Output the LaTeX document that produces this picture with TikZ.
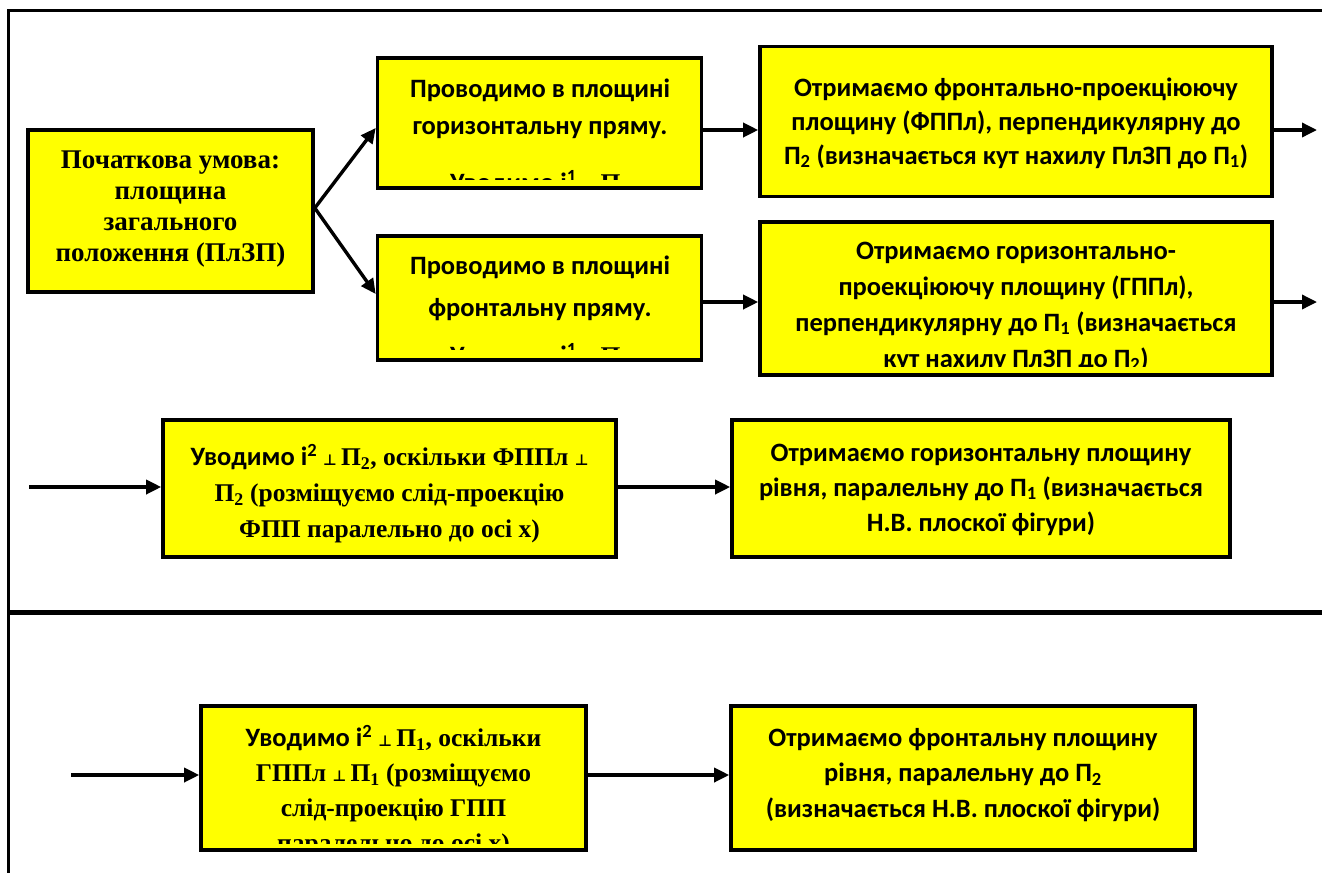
\documentclass[tikz,border=0pt]{standalone}
\usepackage{fontspec}
\setmainfont{Carlito}
\newfontfamily\tnr{Liberation Serif}
\newfontfamily\djv{DejaVu Sans}
\usetikzlibrary{arrows.meta}
\definecolor{boxyellow}{HTML}{FFFF00}
\newcommand\pp{{\djv\fontsize{15}{15}\selectfont ⊥}}
\newcommand\sbs[1]{\textsubscript{#1}}
\newcommand\tb{\tnr\fontsize{25.5}{36}\selectfont\bfseries}
\begin{document}
\begin{tikzpicture}[x=1pt,y=-1pt,
  box/.style={draw=black,line width=3.6pt,fill=boxyellow,inner sep=0pt},
  arr/.style={line width=3.4pt,-{Triangle[length=15pt,width=14pt]}},
  ctxt/.style={align=center,inner sep=0pt,font=\fontsize{26.5}{35}\selectfont\bfseries},
  ttxt/.style={align=center,inner sep=0pt,font=\tnr\fontsize{27}{31}\selectfont\bfseries}]
\useasboundingbox (0,0) rectangle (1322,873);
\fill[white] (0,0) rectangle (1322,873);
% frame
\draw[line width=3pt] (1322,10.5) -- (8,10.5) -- (8,873);
\draw[line width=5pt] (8,612) -- (1322,612);

% start box
\node[box,minimum width=285pt,minimum height=162pt] (s) at (170.5,211) {};
\node[ttxt] (st) at (170.5,209) {Початкова умова:\\площина\\загального\\положення (ПлЗП)};

% box 2
\node[box,minimum width=324pt,minimum height=130pt] (b2) at (539.5,123) {};
\begin{scope}
\clip (b2.north west) rectangle ([yshift=10pt]b2.south east);
\node[ctxt,font=\fontsize{26.5}{37}\selectfont\bfseries] (t2) at (540,137) {Проводимо в площині\\горизонтальну пряму.\\[20pt]Уводимо і\textsuperscript{1} {\tb\pp\,П\sbs{1}}};
\end{scope}

% box 3
\node[box,minimum width=324pt,minimum height=124pt] (b3) at (539.5,298) {};
\begin{scope}
\clip (b3.north west) rectangle ([yshift=12pt]b3.south east);
\node[ctxt,font=\fontsize{26.5}{42}\selectfont\bfseries] (t3) at (540,312) {Проводимо в площині\\фронтальну пряму.\\[6pt]Уводимо і\textsuperscript{1} {\tb\pp\,П\sbs{2}}};
\end{scope}

% box 4
\node[box,minimum width=512pt,minimum height=150pt] (b4) at (1016,121.5) {};
\node[ctxt,font=\fontsize{26.5}{34}\selectfont\bfseries] (t4) at (1016,123) {Отримаємо фронтально-проекціюючу\\площину (ФППл), перпендикулярну до\\П\sbs{2} (визначається кут нахилу ПлЗП до П\sbs{1})};

% box 5
\node[box,minimum width=512pt,minimum height=153pt] (b5) at (1016,298.5) {};
\begin{scope}
\clip (b5.north west) rectangle ([yshift=10pt]b5.south east);
\node[ctxt,font=\fontsize{26.5}{36}\selectfont\bfseries] (t5) at (1016,306.5) {Отримаємо горизонтально-\\проекціюючу площину (ГППл),\\перпендикулярну до П\sbs{1} (визначається\\кут нахилу ПлЗП до П\sbs{2})};
\end{scope}

% box 6
\node[box,minimum width=453pt,minimum height=137pt] (b6) at (389.5,488.5) {};
\node[ctxt,font=\fontsize{26.5}{36}\selectfont\bfseries] (t6) at (389.5,494) {Уводимо і\textsuperscript{2} {\tb\pp\,П\sbs{2}, оскільки ФППл \pp}\\{\tb П\sbs{2} (розміщуємо слід-проекцію}\\{\tb ФПП паралельно до осі х)}};

% box 7
\node[box,minimum width=498pt,minimum height=137pt] (b7) at (981,488.5) {};
\node[ctxt] (t7) at (981,489.5) {Отримаємо горизонтальну площину\\рівня, паралельну до П\sbs{1} (визначається\\Н.В. плоскої фігури)};

% box 8
\node[box,minimum width=385pt,minimum height=144pt] (b8) at (393.5,778) {};
\begin{scope}
\clip (b8.north west) rectangle ([yshift=8pt]b8.south east);
\node[ctxt,font=\fontsize{26.5}{35}\selectfont\bfseries] (t8) at (393.5,791) {Уводимо і\textsuperscript{2} {\tb\pp\,П\sbs{1}, оскільки}\\{\tb ГППл \pp\,П\sbs{1} (розміщуємо}\\{\tb слід-проекцію ГПП}\\{\tb паралельно до осі х)}};
\end{scope}

% box 9
\node[box,minimum width=464pt,minimum height=144pt] (b9) at (963,778) {};
\node[ctxt,font=\fontsize{26.5}{35.5}\selectfont\bfseries] (t9) at (963,775) {Отримаємо фронтальну площину\\рівня, паралельну до П\sbs{2}\\(визначається Н.В. плоскої фігури)};

% connectors
\draw[arr] ([yshift=3pt]s.east) -- ([yshift=-5pt]b2.west);
\draw[arr] ([yshift=3pt]s.east) -- ([yshift=4pt]b3.west);
\draw[arr] (b2.east |- 0,130) -- (b4.west |- 0,130);
\coordinate (o1) at (1317,130);
\draw[arr] (b4.east |- o1) -- (o1);
\draw[arr] (b3.east |- 0,302) -- (b5.west |- 0,302);
\coordinate (o2) at (1317,302);
\draw[arr] (b5.east |- o2) -- (o2);
\coordinate (i6) at (29,487);
\draw[arr] (i6) -- (b6.west |- i6);
\draw[arr] (b6.east |- i6) -- (b7.west |- i6);
\coordinate (i8) at (71,775);
\draw[arr] (i8) -- (b8.west |- i8);
\draw[arr] (b8.east |- i8) -- (b9.west |- i8);
\end{tikzpicture}
\end{document}
